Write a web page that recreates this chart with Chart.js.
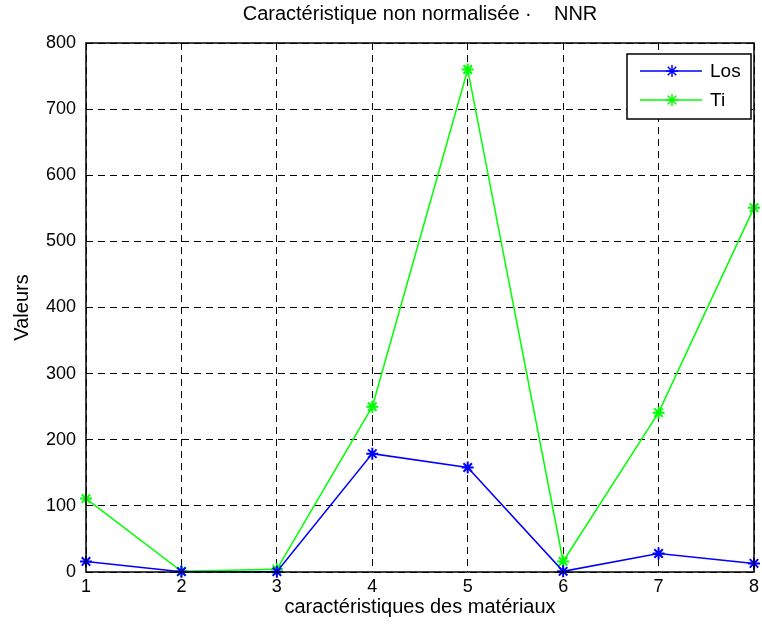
<!DOCTYPE html>
<html>
<head>
<meta charset="utf-8">
<script src="https://cdn.jsdelivr.net/npm/chart.js@4.4.1/dist/chart.umd.min.js"></script>
<style>
  html, body { margin: 0; padding: 0; background: #fff; }
  #wrap { width: 762px; height: 626px; }
</style>
</head>
<body>
<div id="wrap"><canvas id="c" width="762" height="626"></canvas></div>
<script>
// Material characteristics (x positions 1..8)
const categories = [1, 2, 3, 4, 5, 6, 7, 8];
const losValues = [16, 0.5, 0.5, 179, 158, 1, 28, 13];
const tiValues = [111, 1, 4, 250, 760, 16, 241, 551];
const yTicks = [0, 100, 200, 300, 400, 500, 600, 700, 800];

const FONT = '"Liberation Sans", Arial, sans-serif';

const toPoints = vals => categories.map((x, i) => ({ x: x, y: vals[i] }));

// Solid frame around the plot area
const framePlugin = {
  id: 'frame',
  afterDatasetsDraw(chart) {
    const { ctx, chartArea: a } = chart;
    ctx.save();
    ctx.strokeStyle = '#000';
    ctx.lineWidth = 1.5;
    ctx.strokeRect(a.left, a.top, a.right - a.left, a.bottom - a.top);
    ctx.restore();
  }
};

// Boxed legend in the top-right corner of the plot
const boxLegend = {
  id: 'boxLegend',
  afterDraw(chart) {
    const { ctx } = chart;
    const x0 = 627, y0 = 54, x1 = 751, y1 = 119;
    ctx.save();
    ctx.fillStyle = '#fff';
    ctx.fillRect(x0, y0, x1 - x0, y1 - y0);
    ctx.strokeStyle = '#000';
    ctx.lineWidth = 1.5;
    ctx.strokeRect(x0, y0, x1 - x0, y1 - y0);
    const rows = [71, 100];
    chart.data.datasets.forEach((ds, i) => {
      const y = rows[i];
      ctx.strokeStyle = ds.borderColor;
      ctx.lineWidth = 1.5;
      ctx.beginPath();
      ctx.moveTo(640, y);
      ctx.lineTo(702, y);
      ctx.stroke();
      Chart.helpers.drawPoint(ctx, {
        pointStyle: 'star', radius: 6, borderWidth: 2
      }, 672, y);
      ctx.fillStyle = '#000';
      ctx.font = '19px ' + FONT;
      ctx.textBaseline = 'middle';
      ctx.textAlign = 'left';
      ctx.fillText(ds.label, 710, y + 1);
    });
    ctx.restore();
  }
};

new Chart(document.getElementById('c'), {
  type: 'line',
  data: {
    datasets: [
      {
        label: 'Los',
        data: toPoints(losValues),
        borderColor: '#0000ff',
        backgroundColor: '#0000ff',
        borderWidth: 1.5,
        pointStyle: 'star',
        pointRadius: 6,
        pointBorderWidth: 2,
        tension: 0,
        clip: false
      },
      {
        label: 'Ti',
        data: toPoints(tiValues),
        borderColor: '#00ff00',
        backgroundColor: '#00ff00',
        borderWidth: 1.5,
        pointStyle: 'star',
        pointRadius: 6,
        pointBorderWidth: 2,
        tension: 0,
        clip: false
      }
    ]
  },
  options: {
    responsive: false,
    animation: false,
    devicePixelRatio: 1,
    layout: { padding: { left: 0, right: 0, top: 0, bottom: 0 } },
    plugins: {
      legend: { display: false },
      tooltip: { enabled: false },
      title: {
        display: true,
        fullSize: false,
        text: 'Caractéristique non normalisée ·    NNR',
        color: '#000',
        font: { family: FONT, size: 20, weight: 'normal', lineHeight: 1.2 },
        padding: { top: 2, bottom: 17 }
      }
    },
    scales: {
      x: {
        type: 'linear',
        min: 1,
        max: 8,
        afterBuildTicks(scale) {
          scale.ticks = categories.map(v => ({ value: v }));
        },
        afterFit(scale) {
          scale.height = 54;
          scale.paddingLeft = 0;
          scale.paddingRight = 0;
        },
        grid: {
          color: '#000',
          lineWidth: 1,
          drawTicks: false
        },
        border: { display: false, dash: [7, 5] },
        ticks: {
          color: '#000',
          padding: 4,
          maxRotation: 0,
          font: { family: FONT, size: 18 }
        },
        title: {
          display: true,
          text: 'caractéristiques des matériaux',
          color: '#000',
          font: { family: FONT, size: 20, lineHeight: 1.2 },
          padding: { top: 0, bottom: 7 }
        }
      },
      y: {
        min: 0,
        max: 800,
        afterBuildTicks(scale) {
          scale.ticks = yTicks.map(v => ({ value: v }));
        },
        afterFit(scale) {
          scale.width = 86;
          scale.paddingTop = 0;
          scale.paddingBottom = 0;
        },
        grid: {
          color: '#000',
          lineWidth: 1,
          drawTicks: false
        },
        border: { display: false, dash: [7, 5] },
        ticks: {
          color: '#000',
          padding: 10,
          font: { family: FONT, size: 18 }
        },
        title: {
          display: true,
          text: 'Valeurs',
          color: '#000',
          font: { family: FONT, size: 20, lineHeight: 1.2 },
          padding: { top: 10, bottom: 0 }
        }
      }
    }
  },
  plugins: [framePlugin, boxLegend]
});
</script>
</body>
</html>
